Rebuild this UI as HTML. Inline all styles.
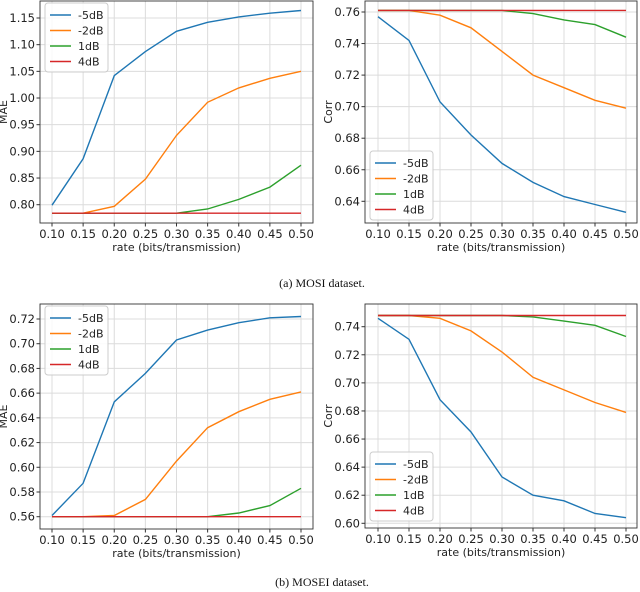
<!DOCTYPE html>
<html><head><meta charset="utf-8"><style>
body{margin:0;background:#fff;width:640px;height:592px;overflow:hidden}
svg{display:block}
text{font-family:"DejaVu Sans","Liberation Sans",sans-serif;fill:#222}
.cap{font-family:"Liberation Serif",serif;font-size:12px;fill:#111}
</style></head><body>
<svg id="fig" width="640" height="592">
<text class="cap" x="322" y="287" text-anchor="middle">(a)  MOSI dataset.</text>
<text class="cap" x="322" y="586" text-anchor="middle">(b)  MOSEI dataset.</text>
</svg>
<script>
const rates=[0.10,0.15,0.20,0.25,0.30,0.35,0.40,0.45,0.50];
const seriesNames=["-5dB","-2dB","1dB","4dB"];
const colors=["#1f77b4","#ff7f0e","#2ca02c","#d62728"];
// MOSI MAE
const mosiMae5=[0.799,0.886,1.042,1.087,1.125,1.142,1.152,1.159,1.164];
const mosiMae2=[0.784,0.784,0.797,0.848,0.930,0.992,1.019,1.037,1.050];
const mosiMae1=[0.784,0.784,0.784,0.784,0.784,0.792,0.810,0.833,0.874];
const mosiMae4=[0.784,0.784,0.784,0.784,0.784,0.784,0.784,0.784,0.784];
const mosiMaeTicks=[0.80,0.85,0.90,0.95,1.00,1.05,1.10,1.15];
// MOSI Corr
const mosiCorr5=[0.757,0.742,0.703,0.682,0.664,0.652,0.643,0.638,0.633];
const mosiCorr2=[0.761,0.761,0.758,0.750,0.735,0.720,0.712,0.704,0.699];
const mosiCorr1=[0.761,0.761,0.761,0.761,0.761,0.759,0.755,0.752,0.744];
const mosiCorr4=[0.761,0.761,0.761,0.761,0.761,0.761,0.761,0.761,0.761];
const mosiCorrTicks=[0.64,0.66,0.68,0.70,0.72,0.74,0.76];
// MOSEI MAE
const moseiMae5=[0.561,0.587,0.653,0.676,0.703,0.711,0.717,0.721,0.722];
const moseiMae2=[0.560,0.560,0.561,0.574,0.605,0.632,0.645,0.655,0.661];
const moseiMae1=[0.560,0.560,0.560,0.560,0.560,0.560,0.563,0.569,0.583];
const moseiMae4=[0.560,0.560,0.560,0.560,0.560,0.560,0.560,0.560,0.560];
const moseiMaeTicks=[0.56,0.58,0.60,0.62,0.64,0.66,0.68,0.70,0.72];
// MOSEI Corr
const moseiCorr5=[0.746,0.731,0.688,0.665,0.633,0.620,0.616,0.607,0.604];
const moseiCorr2=[0.748,0.748,0.746,0.737,0.722,0.704,0.695,0.686,0.679];
const moseiCorr1=[0.748,0.748,0.748,0.748,0.748,0.747,0.744,0.741,0.733];
const moseiCorr4=[0.748,0.748,0.748,0.748,0.748,0.748,0.748,0.748,0.748];
const moseiCorrTicks=[0.60,0.62,0.64,0.66,0.68,0.70,0.72,0.74];

const NS="http://www.w3.org/2000/svg";
const svg=document.getElementById("fig");
function mk(tag,attrs,parent){const e=document.createElementNS(NS,tag);for(const k in attrs)e.setAttribute(k,attrs[k]);(parent||svg).appendChild(e);return e;}

function plot(o){
  const g=mk("g",{});
  
  
  const xs=v=>o.x0+(v-0.10)/(0.50-0.10)*(o.x1-o.x0);
  const ys=v=>o.yb+(v-o.vb)/(o.vt-o.vb)*(o.yt-o.yb);
  // grid
  rates.forEach(r=>{mk("line",{x1:xs(r),x2:xs(r),y1:o.top,y2:o.bot,stroke:"#dcdcdc","stroke-width":1},g);});
  o.ticks.forEach(t=>{mk("line",{x1:o.left,x2:o.right,y1:ys(t),y2:ys(t),stroke:"#dcdcdc","stroke-width":1},g);});
  // series
  o.data.forEach((d,i)=>{
    const p=mk("polyline",{points:d.map((v,j)=>xs(rates[j]).toFixed(1)+","+ys(v).toFixed(1)).join(" "),fill:"none",stroke:colors[i],"stroke-width":1.4},g);
    
    
  });
  // frame
  mk("rect",{x:o.left,y:o.top,width:o.right-o.left,height:o.bot-o.top,fill:"none",stroke:"#333","stroke-width":0.9},g);
  // x ticks
  rates.forEach(r=>{
    mk("line",{x1:xs(r),x2:xs(r),y1:o.bot,y2:o.bot+3.5,stroke:"#333"},g);
    const t=mk("text",{x:xs(r),y:o.bot+15,"text-anchor":"middle","font-size":"11.5"},g);t.textContent=r.toFixed(2);
    
    
  });
  o.ticks.forEach(tv=>{
    mk("line",{x1:o.left-3.5,x2:o.left,y1:ys(tv),y2:ys(tv),stroke:"#333"},g);
    const t=mk("text",{x:o.left-5,y:ys(tv)+4,"text-anchor":"end","font-size":"11.5"},g);t.textContent=tv.toFixed(2);
    
    
  });
  const xl=mk("text",{x:(o.left+o.right)/2,y:o.bot+28,"text-anchor":"middle","font-size":"11"},g);xl.textContent="rate (bits/transmission)";
  
  
  const yx=o.left-33, yy=(o.top+o.bot)/2;
  const yl=mk("text",{x:yx,y:yy,"text-anchor":"middle","font-size":"11",transform:`rotate(-90 ${yx} ${yy})`},g);yl.textContent=o.ylabel;
  
  
  // legend
  const lg=mk("g",{},g);
  
  
  mk("rect",{x:o.lx,y:o.ly,width:63,height:69,rx:3,fill:"#fff","fill-opacity":0.85,stroke:"#ccc"},lg);
  seriesNames.forEach((n,i)=>{
    const cy=o.ly+12+i*15.5;
    mk("line",{x1:o.lx+5,x2:o.lx+26,y1:cy,y2:cy,stroke:colors[i],"stroke-width":1.4},lg);
    const t=mk("text",{x:o.lx+33,y:cy+4,"font-size":"11"},lg);t.textContent=n;
    
    
  });
}
plot({name:"mosi-mae",left:40,right:313,top:1,bot:223,x0:52,x1:301,vb:0.80,yb:204.7,vt:1.15,yt:18,ticks:mosiMaeTicks,ylabel:"MAE",data:[mosiMae5,mosiMae2,mosiMae1,mosiMae4],lx:45,ly:3});
plot({name:"mosi-corr",left:365,right:637,top:1,bot:223,x0:378,x1:626,vb:0.64,yb:201.3,vt:0.76,yt:12,ticks:mosiCorrTicks,ylabel:"Corr",data:[mosiCorr5,mosiCorr2,mosiCorr1,mosiCorr4],lx:370,ly:151});
plot({name:"mosei-mae",left:40,right:313,top:304,bot:529,x0:52,x1:301,vb:0.56,yb:516.7,vt:0.72,yt:319,ticks:moseiMaeTicks,ylabel:"MAE",data:[moseiMae5,moseiMae2,moseiMae1,moseiMae4],lx:45,ly:306});
plot({name:"mosei-corr",left:365,right:637,top:304,bot:528,x0:378,x1:626,vb:0.60,yb:523.3,vt:0.74,yt:326.7,ticks:moseiCorrTicks,ylabel:"Corr",data:[moseiCorr5,moseiCorr2,moseiCorr1,moseiCorr4],lx:370,ly:452});
</script>
</body></html>
